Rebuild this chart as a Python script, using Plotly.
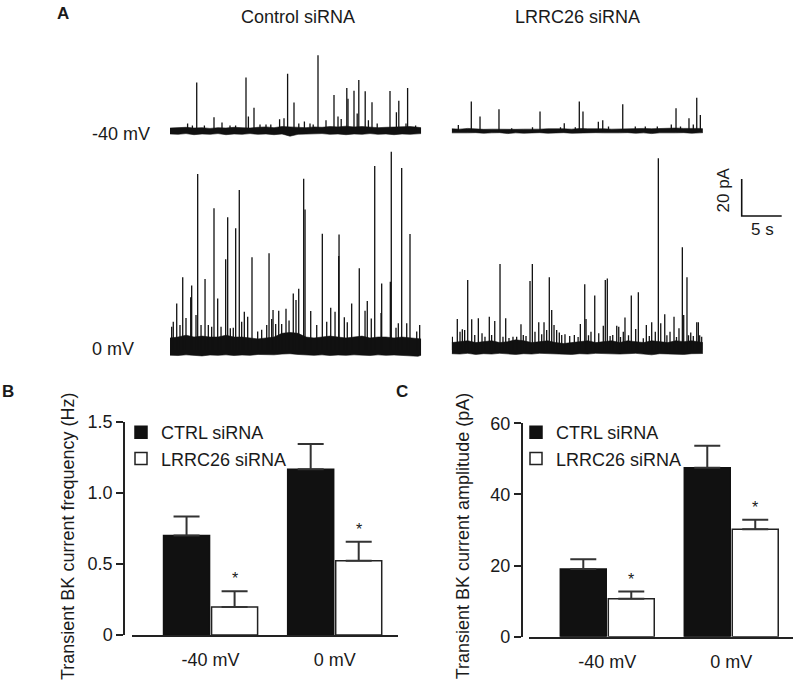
import plotly.graph_objects as go

# ---------------- data ----------------
# time grid for the baseline-noise envelope of each recording (s)
noise_t = [0, 1, 2, 3, 4, 5, 6, 7, 8, 9, 10, 11, 12, 13, 14, 15, 16, 17, 18, 19,
           20, 21, 22, 23, 24, 25, 26, 27, 28, 29, 30, 31, 31.4]

# Control siRNA, -40 mV: noise envelope (pA) and transient events (time s, amplitude pA)
ctrl40_hi = [1.6, 1.8, 2.0, 1.6, 1.8, 1.4, 1.8, 1.6, 2.0, 1.8, 1.6, 2.0, 2.2, 1.8, 2.4, 2.2, 2.0,
             1.8, 2.2, 2.0, 2.4, 2.2, 2.6, 2.2, 2.4, 2.0, 1.8, 2.0, 2.2, 2.0, 2.4, 2.0, 1.8]
ctrl40_lo = [-1.6, -1.8, -1.4, -2.0, -1.6, -1.8, -1.4, -2.0, -1.6, -1.8, -1.4, -1.8, -1.6, -2.0,
             -1.6, -2.8, -1.8, -1.6, -1.8, -1.4, -1.8, -1.6, -2.0, -1.6, -1.8, -1.4, -1.8, -1.6,
             -2.0, -1.6, -1.8, -1.6, -1.4]
ctrl40_t = [3.34, 5.5, 6.5, 9.5, 9.8, 10.5, 13.7, 14.25, 14.7, 15.5, 16.8, 18.5, 19.5, 20.5,
            21.0, 21.4, 22.1, 22.25, 23.0, 23.4, 23.6, 24.4, 24.8, 25.25, 27.5, 28.3, 28.6, 29.7,
            2.2, 2.8, 4.3, 7.5, 8.2, 11.25, 12.0, 12.6, 16.1, 17.5, 17.9, 25.9, 29.5, 30.7]
ctrl40_a = [26.2, 7.4, 4.6, 28.9, 7.9, 12.6, 6.3, 6.9, 31.0, 15.4, 5.2, 40.9, 5.8, 19.5,
            7.9, 6.5, 23.2, 17.5, 21.8, 9.4, 27.6, 21.5, 5.8, 15.5, 21.6, 10.1, 16.4, 23.2,
            4.0, 3.0, 3.0, 3.0, 3.0, 3.5, 3.5, 3.5, 4.0, 4.0, 3.5, 4.0, 4.0, 3.0]

# LRRC26 siRNA, -40 mV
lrrc40_hi = [1.2, 1.0, 1.4, 1.0, 0.9, 1.0, 0.9, 0.8, 0.9, 1.0, 0.9, 1.0, 1.2, 1.4, 1.2, 1.0, 1.4,
             1.2, 1.4, 1.2, 1.0, 1.2, 1.0, 1.2, 1.4, 1.2, 1.4, 1.2, 1.6, 1.4, 1.6, 1.4, 1.2]
lrrc40_lo = [-1.0, -1.2, -1.0, -0.9, -1.2, -1.0, -0.9, -1.4, -1.0, -1.2, -1.0, -0.9, -1.2, -1.0,
             -0.9, -1.2, -1.0, -1.2, -0.9, -1.0, -1.2, -1.0, -0.9, -1.2, -1.0, -1.4, -1.0, -1.2,
             -1.0, -0.9, -1.2, -1.0, -0.9]
lrrc40_t = [0.83, 2.45, 3.54, 5.91, 11.04, 14.07, 15.95, 16.41, 18.33, 18.88, 21.38, 28.04,
            29.66, 30.63, 31.08, 7.5, 10.1, 13.6, 15.45, 19.6, 22.95, 24.2, 25.7, 27.45, 28.6, 30.2]
lrrc40_a = [3.2, 15.9, 7.8, 11.7, 10.5, 4.2, 15.9, 10.5, 5.0, 5.8, 14.4, 12.3,
            6.9, 18.0, 8.6, 1.5, 2.0, 2.0, 2.0, 2.5, 2.5, 2.5, 2.5, 3.5, 2.5, 3.5]

# Control siRNA, 0 mV
ctrl0_hi = [6.5, 7.0, 8.0, 7.0, 7.5, 7.0, 7.0, 8.0, 7.0, 7.0, 6.5, 6.0, 6.5, 7.0, 9.0, 9.5, 9.0,
            7.0, 6.5, 7.0, 7.5, 7.0, 6.5, 7.0, 7.5, 6.5, 7.0, 7.0, 6.5, 7.0, 6.5, 6.0, 6.0]
ctrl0_lo = [-2.8, -3.0, -2.6, -2.9, -3.2, -2.7, -2.9, -2.6, -3.0, -2.7, -2.9, -2.4, -2.7, -2.6,
            -2.2, -2.0, -2.4, -2.7, -2.9, -2.6, -3.0, -2.7, -2.9, -2.6, -2.7, -3.0, -2.6, -2.9,
            -2.7, -2.9, -3.0, -3.4, -2.8]
ctrl0_t = [0.84, 1.59, 2.59, 2.71, 3.46, 4.38, 5.5, 5.96, 6.96, 7.21, 8.21, 8.66, 9.29, 10.25,
           12.38, 12.88, 13.59, 14.5, 15.41, 15.75, 16.09, 16.71, 16.88, 17.59, 19.04, 20.09,
           21.09, 21.13, 22.71, 23.66, 24.66, 25.59, 26.46, 27.54, 27.66, 28.96, 30.0, 31.21,
           0.21, 0.41, 1.25, 2.0, 3.25, 3.88, 4.79, 5.21, 6.38, 7.54, 7.91, 8.96, 9.71, 10.96,
           11.46, 12.09, 12.71, 13.21, 13.96, 14.88, 18.34, 19.59, 20.63, 21.79, 22.16, 24.38,
           25.16, 26.38, 28.25, 28.54, 29.59, 30.84]
ctrl0_a = [25.2, 39.3, 28.5, 34.8, 95.1, 38.4, 76.6, 27.9, 49.0, 71.7, 65.8, 86.5, 20.7, 50.1,
           52.3, 21.6, 21.2, 22.3, 30.6, 27.0, 33.1, 92.6, 76.0, 21.1, 62.9, 22.9,
           50.8, 62.5, 25.2, 44.2, 26.5, 99.5, 36.0, 36.9, 107.2, 98.4, 62.7, 13.5,
           12.6, 15.3, 13.5, 17.3, 18.9, 13.5, 13.5, 12.5, 12.5, 11.7, 12.0, 15.3, 18.0, 10.0,
           11.0, 13.5, 16.7, 14.0, 14.0, 16.0, 13.5, 15.3, 20.7, 17.7, 15.0, 21.2,
           17.0, 20.0, 12.0, 14.4, 14.4, 10.0]

# LRRC26 siRNA, 0 mV
lrrc0_hi = [4.0, 4.5, 5.0, 4.0, 4.5, 5.0, 4.0, 4.5, 5.5, 5.0, 4.0, 4.5, 5.0, 4.0, 3.5, 4.0, 4.5,
            5.0, 4.0, 4.5, 5.0, 4.0, 5.0, 4.5, 4.0, 5.0, 4.5, 4.0, 5.0, 4.5, 5.0, 4.0, 4.0]
lrrc0_lo = [-2.0, -2.2, -1.8, -2.4, -2.0, -2.2, -1.8, -2.0, -2.4, -2.0, -2.2, -1.8, -2.0, -2.2,
            -2.0, -2.4, -2.0, -2.2, -1.8, -2.0, -2.4, -2.2, -2.0, -1.8, -2.2, -2.6, -2.0, -2.2,
            -2.0, -2.4, -2.0, -2.2, -1.9]
lrrc0_t = [0.7, 1.33, 2.0, 2.5, 3.33, 3.79, 4.7, 5.38, 6.04, 6.75, 7.66, 8.66, 9.29, 9.79, 10.08,
           10.88, 11.54, 12.2, 12.5, 12.79, 13.45, 14.16, 15.33, 16.08, 16.63, 16.79, 17.41,
           17.88, 18.38, 18.95, 19.2, 19.45, 20.13, 20.63, 20.88, 21.45, 21.66, 22.45, 23.0,
           23.33, 23.95, 24.33, 25.0, 25.45, 25.83, 26.13, 26.63, 27.29, 27.79, 28.41, 28.83,
           29.0, 29.41, 29.88, 30.63, 30.83, 31.25,
           0.08, 1.04, 1.62, 2.88, 4.16, 4.99, 6.41, 7.16, 8.12, 8.95, 10.41, 11.25, 11.87,
           13.12, 13.75, 14.75, 15.8, 17.1, 19.8, 21.1, 22.1, 24.7, 26.9, 28.1, 29.6, 30.2, 31.0]
lrrc0_a = [16.8, 11.2, 37.8, 16.6, 17.1, 9.0, 18.0, 15.7, 46.5, 17.1, 7.2, 13.9, 7.6, 37.3, 46.5,
           15.0, 15.0, 39.3, 21.6, 13.5, 9.4, 8.5, 8.1, 14.0, 35.5, 16.8, 9.9,
           29.4, 9.0, 13.1, 37.8, 38.7, 8.1, 13.1, 12.6, 9.9, 17.5, 29.4, 11.4,
           31.2, 6.3, 13.5, 15.0, 9.9, 103.6, 14.4, 19.3, 9.9, 18.0, 11.7, 55.5,
           18.9, 39.3, 9.4, 15.0, 15.0, 7.2,
           7.2, 9.9, 10.8, 8.1, 7.2, 8.1, 7.2, 6.5, 7.2, 8.1, 9.9, 8.5, 10.8,
           10.8, 8.1, 7.5, 7.0, 8.0, 7.5, 7.0, 8.0, 7.5, 8.0, 7.0, 8.0, 7.5, 8.0]

# scale bar
scale_pA = 20
scale_s = 5

# bar charts
voltages = ["-40 mV", "0 mV"]
freq_ctrl = [0.70, 1.165]
freq_ctrl_sem = [0.133, 0.178]
freq_lrrc = [0.197, 0.523]
freq_lrrc_sem = [0.110, 0.133]
amp_ctrl = [19.0, 47.5]
amp_ctrl_sem = [2.8, 6.2]
amp_lrrc = [10.7, 30.2]
amp_lrrc_sem = [2.0, 2.7]
freq_ticks = [0, 0.5, 1.0, 1.5]
freq_ticktext = ["0", "0.5", "1.0", "1.5"]
amp_ticks = [0, 20, 40, 60]

# ---------------- figure ----------------
W, H = 800, 690
FONT = "Liberation Sans, Arial, Helvetica, sans-serif"
INK = "#111111"
TXT = "#1a1a1a"


def fx(p):
    return p / W


def fy(p):
    return 1 - p / H


fig = go.Figure()


def spike_lines(ts, amps):
    xs, ys = [], []
    for t, a in zip(ts, amps):
        xs += [t, t, None]
        ys += [0, a, None]
    return xs, ys


def add_recording(xa, ya, hi, lo, ts, amps):
    fig.add_trace(go.Scatter(x=noise_t, y=lo, xaxis=xa, yaxis=ya, mode="lines",
                             line=dict(color=INK, width=0.6), showlegend=False, hoverinfo="skip"))
    fig.add_trace(go.Scatter(x=noise_t, y=hi, xaxis=xa, yaxis=ya, mode="lines",
                             line=dict(color=INK, width=0.6), fill="tonexty", fillcolor=INK,
                             showlegend=False, hoverinfo="skip"))
    xs, ys = spike_lines(ts, amps)
    fig.add_trace(go.Scatter(x=xs, y=ys, xaxis=xa, yaxis=ya, mode="lines",
                             line=dict(color=INK, width=1.3), showlegend=False,
                             hoverinfo="skip"))


add_recording("x", "y", ctrl40_hi, ctrl40_lo, ctrl40_t, ctrl40_a)
add_recording("x2", "y", lrrc40_hi, lrrc40_lo, lrrc40_t, lrrc40_a)
add_recording("x", "y2", ctrl0_hi, ctrl0_lo, ctrl0_t, ctrl0_a)
add_recording("x2", "y2", lrrc0_hi, lrrc0_lo, lrrc0_t, lrrc0_a)

# scale bar
fig.add_trace(go.Scatter(x=[0, 0, scale_s], y=[scale_pA, 0, 0], xaxis="x5", yaxis="y5",
                         mode="lines", line=dict(color=INK, width=1.6), showlegend=False,
                         hoverinfo="skip"))

err_style = dict(type="data", symmetric=False, color="#333333", thickness=2, width=13)


def add_bars(xa, ya, leg, ctrl, ctrl_sem, lrrc, lrrc_sem):
    fig.add_trace(go.Bar(x=voltages, y=ctrl, name="CTRL siRNA", xaxis=xa, yaxis=ya,
                         legend=leg, marker=dict(color=INK, line=dict(color=INK, width=1.5)),
                         error_y=dict(array=ctrl_sem, arrayminus=[0] * len(ctrl), **err_style)))
    fig.add_trace(go.Bar(x=voltages, y=lrrc, name="LRRC26 siRNA", xaxis=xa, yaxis=ya,
                         legend=leg, marker=dict(color="white", line=dict(color="#222222", width=1.5)),
                         error_y=dict(array=lrrc_sem, arrayminus=[0] * len(lrrc), **err_style)))


add_bars("x3", "y3", "legend", freq_ctrl, freq_ctrl_sem, freq_lrrc, freq_lrrc_sem)
add_bars("x4", "y4", "legend2", amp_ctrl, amp_ctrl_sem, amp_lrrc, amp_lrrc_sem)

hidden = dict(visible=False, showgrid=False, zeroline=False, fixedrange=True, automargin=False)
line_style = dict(showline=True, linecolor="#222222", linewidth=1.5, showgrid=False,
                  zeroline=False, fixedrange=True, automargin=False)
tickfont = dict(family=FONT, size=18, color=TXT)

fig.update_layout(
    width=W, height=H, autosize=False, margin=dict(l=0, r=0, t=0, b=0, pad=0),
    paper_bgcolor="white", plot_bgcolor="rgba(0,0,0,0)",
    font=dict(family=FONT, size=18, color=TXT),
    barmode="group", bargap=0.226, bargroupgap=0.042,
    showlegend=True,
    xaxis=dict(domain=[fx(170), fx(421.2)], range=[0, 31.4], anchor="y", **hidden),
    xaxis2=dict(domain=[fx(451.7), fx(702.9)], range=[0, 31.4], anchor="y", **hidden),
    yaxis=dict(domain=[fy(140.25), fy(40.35)], range=[-5, 49], anchor="x", **hidden),
    yaxis2=dict(domain=[fy(361.1), fy(146.5)], range=[-6, 110], anchor="x", **hidden),
    xaxis5=dict(domain=[fx(740.1), fx(783.3)], range=[-0.2, 5.2], anchor="y5", **hidden),
    yaxis5=dict(domain=[fy(216.9), fy(178.1)], range=[-0.5, 20.5], anchor="x5", **hidden),
    xaxis3=dict(domain=[fx(132), fx(398)], range=[-0.633, 1.51], anchor="y3", type="category",
                ticks="outside", ticklen=8, tickcolor="rgba(0,0,0,0)", tickfont=tickfont,
                **line_style),
    yaxis3=dict(domain=[fy(635), fy(421.7)], range=[0, 1.5], anchor="free", position=fx(124),
                ticks="outside", ticklen=7, tickwidth=1.5, tickcolor="#222222",
                tickvals=freq_ticks, ticktext=freq_ticktext, tickfont=tickfont, **line_style),
    xaxis4=dict(domain=[fx(529.3), fx(793)], range=[-0.629, 1.498], anchor="y4", type="category",
                ticks="outside", ticklen=8, tickcolor="rgba(0,0,0,0)", tickfont=tickfont,
                **line_style),
    yaxis4=dict(domain=[fy(636.7), fy(423.3)], range=[0, 60], anchor="free", position=fx(521.7),
                ticks="outside", ticklen=7, tickwidth=1.5, tickcolor="#222222",
                tickvals=amp_ticks, tickfont=tickfont, **line_style),
    legend=dict(x=fx(121), y=fy(414), xanchor="left", yanchor="top", bgcolor="rgba(0,0,0,0)",
                font=dict(family=FONT, size=18, color=TXT), tracegroupgap=0,
                traceorder="normal"),
    legend2=dict(x=fx(516), y=fy(414), xanchor="left", yanchor="top", bgcolor="rgba(0,0,0,0)",
                 font=dict(family=FONT, size=18, color=TXT), tracegroupgap=0,
                 traceorder="normal"),
)


def note(text, x, y, size=18, bold=False, angle=0, xanchor="center", yanchor="middle"):
    fig.add_annotation(text=("<b>%s</b>" % text) if bold else text, x=fx(x), y=fy(y),
                       xref="paper", yref="paper", showarrow=False, textangle=angle,
                       xanchor=xanchor, yanchor=yanchor,
                       font=dict(family=FONT, size=size, color=TXT))


note("A", 63, 13, size=17, bold=True)
note("B", 7.5, 391, size=17, bold=True)
note("C", 402, 391, size=17, bold=True)
note("Control siRNA", 297.7, 17)
note("LRRC26 siRNA", 577, 17)
note("-40 mV", 90, 134, xanchor="left")
note("0 mV", 90, 349, xanchor="left")
note("%d pA" % scale_pA, 723, 190.5, size=17, angle=-90)
note("%d s" % scale_s, 762, 229, size=17)
note("Transient BK current frequency (Hz)", 68, 537, angle=-90)
note("Transient BK current amplitude (pA)", 463.3, 536, angle=-90)

# significance asterisks above the LRRC26 bars
for xa, ya, vals, sems in (("x3", "y3", freq_lrrc, freq_lrrc_sem), ("x4", "y4", amp_lrrc, amp_lrrc_sem)):
    for i, (v, s) in enumerate(zip(vals, sems)):
        fig.add_annotation(text="*", x=i + 0.1935, y=v + s, xref=xa, yref=ya, showarrow=False,
                           yanchor="bottom", yshift=2, font=dict(family=FONT, size=16, color=TXT))

fig.write_html("out.html", config={"displayModeBar": False},
               post_script="document.body.style.margin='0';document.body.style.overflow='hidden';")
